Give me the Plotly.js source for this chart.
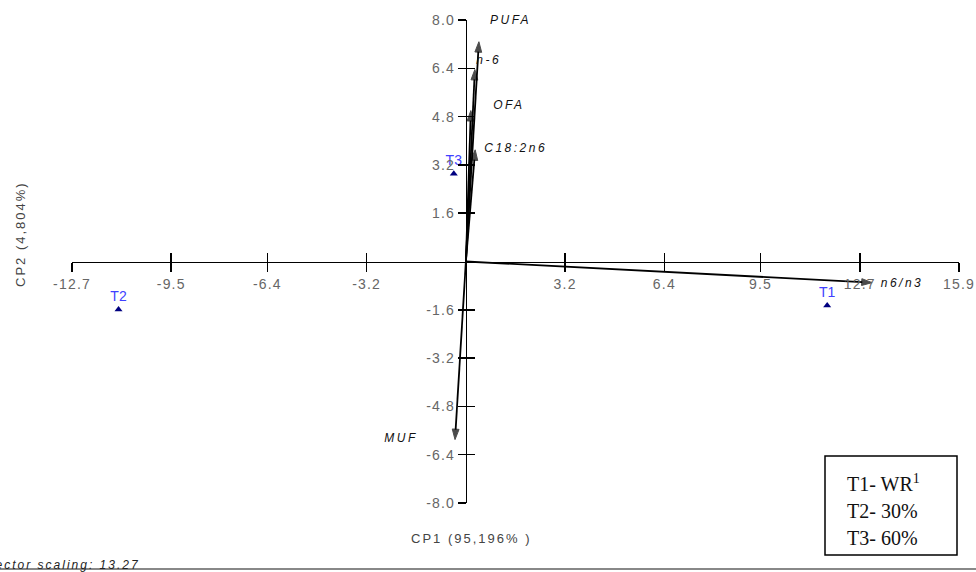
<!DOCTYPE html>
<html><head><meta charset="utf-8">
<script src="https://cdn.plot.ly/plotly-3.0.1.min.js"></script>
<style>
html,body{margin:0;padding:0;background:#fff;}
#chart{width:976px;height:572px;}
.xtick text,.ytick text{letter-spacing:1.2px;}
.annotation text{letter-spacing:2px;}
.annotation[data-index="0"] text,.annotation[data-index="1"] text,.annotation[data-index="2"] text,
.annotation[data-index="3"] text,.annotation[data-index="4"] text,.annotation[data-index="5"] text{letter-spacing:2.5px;}
.annotation[data-index="9"] text,.annotation[data-index="10"] text,.annotation[data-index="11"] text{letter-spacing:0px;}
</style></head><body><div id="chart"></div>
<script>
// ---- data ----
const vectorNames = ['PUFA', 'n-6', 'OFA', 'C18:2n6', 'MUF', 'n6/n3'];
const vectorX = [0.42, 0.29, 0.16, 0.30, -0.35, 13.1];
const vectorY = [7.28, 6.36, 5.0, 3.7, -5.9, -0.7];
const sampleNames = ['T1', 'T2', 'T3'];
const sampleX = [11.65, -11.2, -0.39];
const sampleY = [-1.46, -1.59, 2.91];
const xTickVals = [-12.7, -9.5, -6.4, -3.2, 3.2, 6.4, 9.5, 12.7, 15.9];
const yTickVals = [8.0, 6.4, 4.8, 3.2, 1.6, -1.6, -3.2, -4.8, -6.4, -8.0];
const legendLines = ['T1- WR<sup>1</sup>', 'T2- 30%', 'T3- 60%'];
const xTitle = 'CP1 (95,196% )';
const yTitle = 'CP2 (4,804%)';
const footnote = 'Vector scaling: 13.27';

// ---- styling / layout helpers ----
const X0 = -12.7, X1 = 15.9, Y0 = -8, Y1 = 8;
const L = 72, R = 17, T = 20, B = 69, W = 976, H = 572;
const pw = W - L - R, ph = H - T - B;
const px2paperX = p => (p - L) / pw;
const py2paperY = p => (H - B - p) / ph;
const labelShift = [[32, 22], [14, 10], [38, 6], [41, 2], [-54, 2], [30, 0]];

const traces = [];
vectorNames.forEach((n, i) => {
  traces.push({
    x: [0, vectorX[i]], y: [0, vectorY[i]], mode: 'lines+markers',
    line: {color: '#000', width: 1.8},
    marker: {symbol: 'arrow', angleref: 'previous', size: [0, 11], color: '#000', line: {color: '#000', width: 1}},
    hoverinfo: 'skip', showlegend: false, cliponaxis: false
  });
});
traces.push({
  x: sampleX, y: sampleY, mode: 'markers+text', text: sampleNames,
  textposition: 'top center',
  textfont: {family: 'Liberation Sans, Arial, sans-serif', size: 14, color: '#4040ff'},
  marker: {symbol: 'triangle-up', size: 7, color: '#000080'},
  hoverinfo: 'skip', showlegend: false, cliponaxis: false
});
traces.push({x: [0], y: [0], xaxis: 'x2', yaxis: 'y2', mode: 'markers',
  marker: {opacity: 0}, hoverinfo: 'skip', showlegend: false});

const tickFont = {family: 'Liberation Sans, Arial, sans-serif', size: 14, color: '#666'};
const yPos = (0 - X0) / (X1 - X0);
const xPos = (0 - Y0) / (Y1 - Y0);

const annotations = [];
vectorNames.forEach((n, i) => {
  annotations.push({
    x: vectorX[i], y: vectorY[i], text: n, showarrow: false,
    xshift: labelShift[i][0], yshift: labelShift[i][1],
    font: {family: 'Liberation Sans, Arial, sans-serif', size: 12, color: '#111', style: 'italic'}
  });
});
annotations.push({xref: 'paper', yref: 'paper', x: px2paperX(471), y: py2paperY(538),
  xanchor: 'center', yanchor: 'middle',
  text: xTitle, showarrow: false, font: {family: 'Liberation Sans, Arial, sans-serif', size: 13, color: '#444'}});
annotations.push({xref: 'paper', yref: 'paper', x: px2paperX(20), y: py2paperY(234),
  xanchor: 'center', yanchor: 'middle',
  text: yTitle, textangle: -90, showarrow: false, font: {family: 'Liberation Sans, Arial, sans-serif', size: 13, color: '#444'}});
annotations.push({xref: 'paper', yref: 'paper', x: px2paperX(122), y: py2paperY(565),
  xanchor: 'right', yanchor: 'middle',
  text: footnote, showarrow: false, font: {family: 'Liberation Sans, Arial, sans-serif', size: 12, color: '#222', style: 'italic'}});
const legY = [483, 511, 538];
legendLines.forEach((t, i) => {
  annotations.push({xref: 'paper', yref: 'paper', x: px2paperX(845), y: py2paperY(legY[i]),
    xanchor: 'left', yanchor: 'middle',
    text: t, showarrow: false, font: {family: 'Liberation Serif, Times New Roman, serif', size: 20, color: '#111'}});
});

const layout = {
  width: W, height: H, margin: {l: L, r: R, t: T, b: B},
  paper_bgcolor: '#fff', plot_bgcolor: '#fff', showlegend: false,
  xaxis: {range: [X0, X1], anchor: 'free', position: xPos, showgrid: false, zeroline: false,
    showline: true, linecolor: '#000', linewidth: 1.5, ticks: 'outside', ticklen: 9, tickwidth: 1.5,
    tickcolor: '#000', tickmode: 'array', tickvals: xTickVals, ticktext: xTickVals.map(v => v.toFixed(1)),
    tickfont: tickFont, fixedrange: true},
  yaxis: {range: [Y0, Y1], anchor: 'free', position: yPos, showgrid: false, zeroline: false,
    showline: true, linecolor: '#000', linewidth: 1.5, ticks: 'outside', ticklen: 8, tickwidth: 1.5,
    tickcolor: '#000', tickmode: 'array', tickvals: yTickVals, ticktext: yTickVals.map(v => v.toFixed(1)),
    tickfont: tickFont, fixedrange: true},
  xaxis2: {range: [X0, X1], overlaying: 'x', anchor: 'free', position: xPos, showgrid: false, zeroline: false,
    showline: false, ticks: 'inside', ticklen: 9, tickwidth: 1.5, tickcolor: '#000', tickmode: 'array',
    tickvals: xTickVals, showticklabels: false, fixedrange: true},
  yaxis2: {range: [Y0, Y1], overlaying: 'y', anchor: 'free', position: yPos, showgrid: false, zeroline: false,
    showline: false, ticks: 'inside', ticklen: 8, tickwidth: 1.5, tickcolor: '#000', tickmode: 'array',
    tickvals: yTickVals, showticklabels: false, fixedrange: true},
  annotations: annotations,
  shapes: [
    {type: 'rect', xref: 'paper', yref: 'paper', x0: px2paperX(825), x1: px2paperX(957),
      y0: py2paperY(555), y1: py2paperY(456), line: {color: '#000', width: 1.5}},
    {type: 'line', xref: 'paper', yref: 'paper', x0: px2paperX(-5), x1: px2paperX(985),
      y0: py2paperY(569), y1: py2paperY(569), line: {color: '#888', width: 2}}
  ]
};
Plotly.newPlot('chart', traces, layout, {displayModeBar: false, staticPlot: true});
</script></body></html>
